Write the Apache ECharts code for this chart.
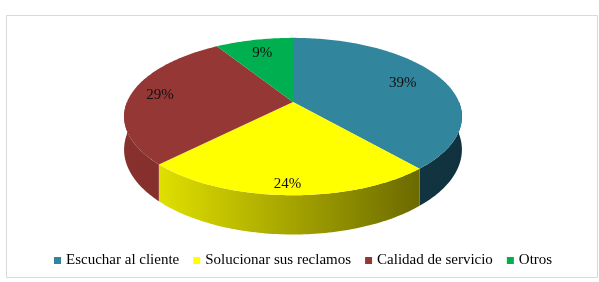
<!DOCTYPE html>
<html>
<head>
<meta charset="utf-8">
<script src="https://cdn.jsdelivr.net/npm/echarts@6.0.0/dist/echarts.min.js"></script>
<style>
  html, body { margin: 0; padding: 0; background: #fff; }
  #chart { width: 599px; height: 282px; }
</style>
</head>
<body>
<div id="chart"></div>
<script>
var categories = ['Escuchar al cliente', 'Solucionar sus reclamos', 'Calidad de servicio', 'Otros'];
var values = [39, 24, 29, 9];
var topColors = ['#31859c', '#ffff00', '#953735', '#00b050'];
var sideColors = [['#1b4756', '#10323e'], ['#eeee00', '#5a5800'], ['#87302e', '#762a28'], ['#00a048', '#008a3c']];

// tilted pie layout (Excel-like 3D pie with a bit of perspective)
var cx = 293, cy = 102, rx = 166, ry = 76, persp = 0.185, depth = 32;
var total = values.reduce(function (s, v) { return s + v; }, 0);

function project(a, f, dy) {
  var s = Math.sin(a) * f;
  var k = 1 / (1 + persp * s);
  return [cx + rx * f * Math.cos(a) * k, cy - ry * s * k + dy * k];
}

function arc(from, to, dy) {
  var pts = [];
  var n = Math.max(2, Math.ceil(Math.abs(to - from) / (Math.PI / 180)));
  for (var j = 0; j <= n; j++) {
    pts.push(project(from + (to - from) * j / n, 1, dy));
  }
  return pts;
}

function sliceRenderer(i) {
  return function (params, api) {
    var before = 0;
    for (var j = 0; j < i; j++) before += values[j];
    var a0 = Math.PI / 2 - before / total * 2 * Math.PI;
    var a1 = a0 - values[i] / total * 2 * Math.PI;
    var children = [];

    // front wall (only the half facing us)
    var s0 = Math.min(a0, 0), s1 = Math.max(a1, -Math.PI);
    if (s0 > s1) {
      var side = arc(s0, s1, 0).concat(arc(s1, s0, depth));
      children.push({
        type: 'polygon',
        z2: 1,
        shape: { points: side },
        style: {
          fill: new echarts.graphic.LinearGradient(cx - rx, 0, cx + rx, 0, [
            { offset: 0, color: sideColors[i][0] },
            { offset: 1, color: sideColors[i][1] }
          ], true)
        }
      });
    }

    // top face
    var top = [project(0, 0, 0)].concat(arc(a0, a1, 0));
    children.push({
      type: 'polygon',
      z2: 5,
      shape: { points: top },
      style: { fill: topColors[i] }
    });

    // percentage label
    var m = (a0 + a1) / 2;
    var f = 0.74 + 0.16 * Math.max(0, -Math.sin(m)) + 0.08 * Math.max(0, -Math.cos(m));
    var p = project(m, f, 0);
    children.push({
      type: 'text',
      z2: 10,
      style: {
        text: values[i] + '%',
        x: p[0],
        y: p[1],
        align: 'center',
        verticalAlign: 'middle',
        font: '15px "Liberation Serif"',
        fill: '#111'
      }
    });

    return { type: 'group', children: children };
  };
}

var series = categories.map(function (name, i) {
  return {
    name: name,
    type: 'custom',
    coordinateSystem: 'none',
    silent: true,
    itemStyle: { color: topColors[i] },
    renderItem: sliceRenderer(i),
    data: [[values[i]]]
  };
});

var option = {
  animation: false,
  backgroundColor: '#fff',
  color: topColors,
  legend: {
    data: categories,
    icon: 'rect',
    itemWidth: 7,
    itemHeight: 7,
    itemGap: 14,
    left: 49,
    top: 248,
    selectedMode: false,
    textStyle: {
      fontFamily: 'Liberation Serif',
      fontSize: 15,
      lineHeight: 15,
      color: '#000'
    }
  },
  graphic: [{
    type: 'rect',
    left: 4,
    top: 13,
    shape: { width: 591, height: 262 },
    style: { fill: 'none', stroke: '#d9d9d9', lineWidth: 1 }
  }],
  series: series
};

var chart = echarts.init(document.getElementById('chart'));
chart.setOption(option);
</script>
</body>
</html>
